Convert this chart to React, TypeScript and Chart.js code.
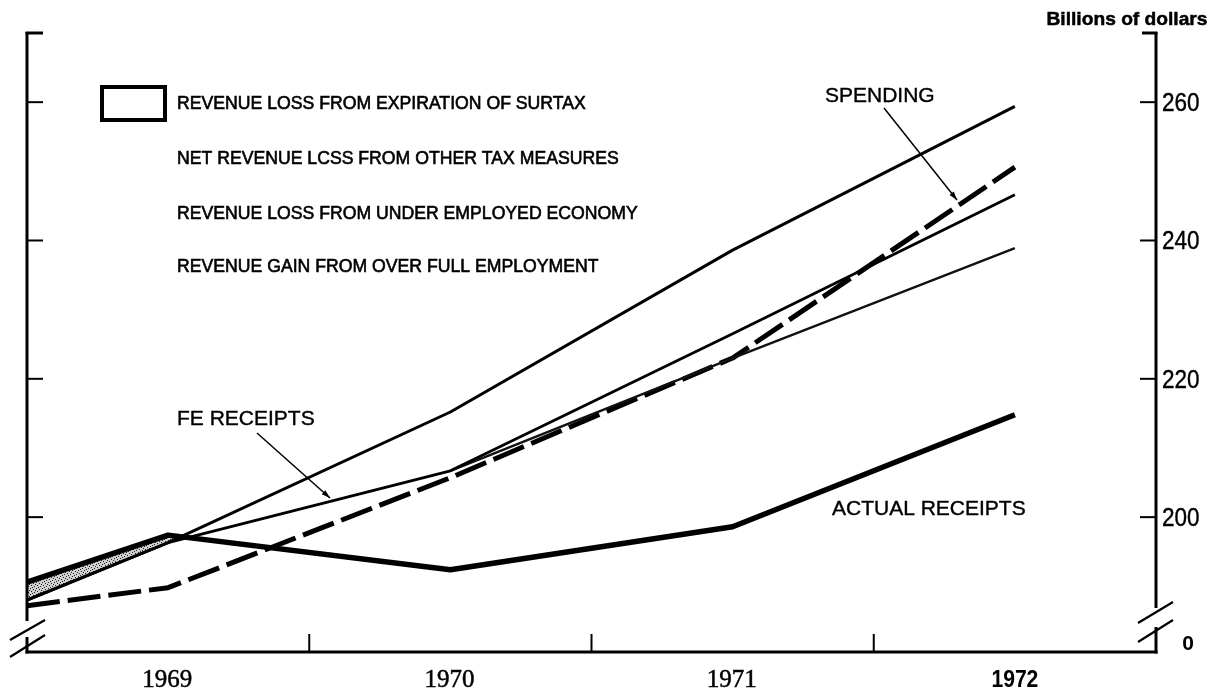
import React, { useEffect, useRef } from "react";
import { Chart, registerables } from "chart.js";

Chart.register(...registerables);

// ---- data (billions of dollars, fiscal years) ----
const years = [1968.5, 1969, 1970, 1971, 1972];
const feReceiptsWithSurtax = [188.0, 196.3, 215.2, 238.6, 259.4];
const feReceipts = [188.0, 196.3, 206.7, 226.5, 246.6];
const feReceiptsLower: (number | null)[] = [null, null, 206.7, 223.0, 238.9];
const spending = [187.2, 189.8, 205.7, 223.0, 250.6];
const actualReceipts = [190.6, 197.4, 192.4, 198.6, 214.8];

const yTickValues = [200, 220, 240, 260];
const yTickLabels = ["200", "220", "240", "260"];
const yBaseLabel = "0";
const xLabelYears = [1969, 1970, 1971, 1972];
const xLabels = ["1969", "1970", "1971", "1972"];
const xTickYears = [1969.5, 1970.5, 1971.5];

const legendItems = [
  "REVENUE LOSS FROM EXPIRATION OF SURTAX",
  "NET REVENUE LCSS FROM OTHER TAX MEASURES",
  "REVENUE LOSS FROM UNDER EMPLOYED ECONOMY",
  "REVENUE GAIN FROM OVER FULL EMPLOYMENT",
];
const unitLabel = "Billions of dollars";
const spendingLabel = "SPENDING";
const feLabel = "FE RECEIPTS";
const actualLabel = "ACTUAL RECEIPTS";

const SANS = '"Liberation Sans", Arial, sans-serif';
const SERIF = '"Liberation Serif", "DejaVu Serif", serif';

function pts(arr: (number | null)[]) {
  const out: { x: number; y: number }[] = [];
  arr.forEach((v, i) => {
    if (v !== null) out.push({ x: years[i], y: v });
  });
  return out;
}

function makeStipple(): CanvasPattern | string {
  const c = document.createElement("canvas");
  c.width = 6;
  c.height = 6;
  const g = c.getContext("2d");
  if (!g) return "#bbb";
  g.fillStyle = "#d0d0d0";
  g.fillRect(0, 0, 6, 6);
  g.fillStyle = "#222";
  const dots = [
    [0, 0], [3, 1], [1, 3], [4, 4], [5, 2], [2, 5],
  ];
  dots.forEach(([x, y]) => g.fillRect(x, y, 1, 1));
  const p = g.createPattern(c, "repeat");
  return p || "#bbb";
}

function text(
  ctx: CanvasRenderingContext2D,
  s: string,
  x: number,
  y: number,
  font: string,
  align: CanvasTextAlign = "left",
  sx = 1,
  heavy = 0
) {
  ctx.save();
  ctx.font = font;
  ctx.fillStyle = "#000";
  ctx.strokeStyle = "#000";
  ctx.textBaseline = "alphabetic";
  ctx.textAlign = align;
  ctx.translate(x, y);
  ctx.scale(sx, 1);
  ctx.fillText(s, 0, 0);
  if (heavy > 0) {
    ctx.lineWidth = heavy;
    ctx.strokeText(s, 0, 0);
  }
  ctx.restore();
}

function line(ctx: CanvasRenderingContext2D, x1: number, y1: number, x2: number, y2: number, w: number) {
  ctx.save();
  ctx.strokeStyle = "#000";
  ctx.lineWidth = w;
  ctx.lineCap = "butt";
  ctx.beginPath();
  ctx.moveTo(x1, y1);
  ctx.lineTo(x2, y2);
  ctx.stroke();
  ctx.restore();
}

function arrow(ctx: CanvasRenderingContext2D, x1: number, y1: number, x2: number, y2: number) {
  line(ctx, x1, y1, x2, y2, 1.5);
  const a = Math.atan2(y2 - y1, x2 - x1);
  const L = 9;
  ctx.save();
  ctx.fillStyle = "#000";
  ctx.beginPath();
  ctx.moveTo(x2, y2);
  ctx.lineTo(x2 - L * Math.cos(a - 0.3), y2 - L * Math.sin(a - 0.3));
  ctx.lineTo(x2 - L * Math.cos(a + 0.3), y2 - L * Math.sin(a + 0.3));
  ctx.closePath();
  ctx.fill();
  ctx.restore();
}

const decorPlugin = {
  id: "decor",
  afterDraw(chart: any) {
    const ctx: CanvasRenderingContext2D = chart.ctx;
    const { left, right, top, bottom } = chart.chartArea;
    const xs = chart.scales.x;
    const ys = chart.scales.y;

    // axes with broken bottom
    line(ctx, left, top - 1, left, bottom - 31, 3);
    line(ctx, left, bottom - 15, left, bottom + 1.5, 3);
    line(ctx, right, top - 1, right, bottom - 44, 3);
    line(ctx, right, bottom - 25, right, bottom + 1.5, 3);
    line(ctx, left - 1.5, bottom, right + 1.5, bottom, 3);
    // top brackets
    line(ctx, left - 1.5, top, left + 16, top, 3);
    line(ctx, right - 14, top, right + 1.5, top, 3);
    // break marks
    line(ctx, left - 17, bottom - 12, left + 18, bottom - 32, 2.2);
    line(ctx, left - 17, bottom + 5, left + 18, bottom - 17, 2.2);
    line(ctx, right - 18, bottom - 29, right + 17, bottom - 50, 2.2);
    line(ctx, right - 18, bottom - 10, right + 17, bottom - 32, 2.2);

    // y ticks both sides (inward) and right labels
    yTickValues.forEach((v, i) => {
      const y = ys.getPixelForValue(v);
      line(ctx, left, y, left + 16, y, 2);
      line(ctx, right - 16, y, right, y, 2);
      text(ctx, yTickLabels[i], right + 6, y + 9, `25px ${SANS}`, "left", 0.9, 0.4);
    });
    text(ctx, yBaseLabel, right + 32, bottom - 2, `bold 21px ${SANS}`, "center");

    // x ticks (inward) and labels
    xTickYears.forEach((v) => {
      const x = xs.getPixelForValue(v);
      line(ctx, x, bottom, x, bottom - 18, 2);
    });
    xLabelYears.forEach((v, i) => {
      const x = xs.getPixelForValue(v);
      const last = i === xLabelYears.length - 1;
      if (last) {
        text(ctx, xLabels[i], x, bottom + 35, `bold 24px ${SANS}`, "center", 0.88);
      } else {
        text(ctx, xLabels[i], x - 1, bottom + 35, `25px ${SERIF}`, "center", 1, 0.5);
      }
    });

    // unit label
    ctx.save();
    ctx.font = `bold 19px ${SANS}`;
    const w = ctx.measureText(unitLabel).width;
    ctx.restore();
    text(ctx, unitLabel, 1127, 25, `bold 19px ${SANS}`, "center", 161 / w, 0.5);

    // legend
    ctx.save();
    ctx.strokeStyle = "#000";
    ctx.lineWidth = 4;
    ctx.strokeRect(102, 87, 63, 33);
    ctx.restore();
    const legendY = [108.5, 163.5, 218.5, 271.5];
    legendItems.forEach((s, i) => {
      text(ctx, s, 177, legendY[i], `18px ${SANS}`, "left", 0.98, 0.6);
    });

    // annotations
    text(ctx, spendingLabel, 825, 102, `21px ${SANS}`, "left", 1, 0.4);
    arrow(ctx, 884, 108, 957, 200);
    text(ctx, feLabel, 177, 425, `21px ${SANS}`, "left", 1, 0.4);
    arrow(ctx, 257, 433, 330, 498);
    text(ctx, actualLabel, 832, 515, `21px ${SANS}`, "left", 1, 0.4);
  },
};

export default function App() {
  const ref = useRef<HTMLCanvasElement>(null);

  useEffect(() => {
    const canvas = ref.current;
    if (!canvas) return;
    const stipple = makeStipple();
    const chart = new Chart(canvas, {
      type: "line",
      data: {
        datasets: [
          {
            label: "FE receipts with surtax",
            data: pts(feReceiptsWithSurtax),
            borderColor: "#000",
            borderWidth: 3,
            pointRadius: 0,
            fill: false,
          },
          {
            label: "FE receipts",
            data: pts(feReceipts),
            borderColor: "#000",
            borderWidth: 2.8,
            pointRadius: 0,
            fill: false,
          },
          {
            label: "FE receipts (under employed)",
            data: pts(feReceiptsLower),
            borderColor: "#111",
            borderWidth: 2.4,
            pointRadius: 0,
            fill: false,
          },
          {
            label: "Spending",
            data: pts(spending),
            borderColor: "#000",
            borderWidth: 5,
            borderDash: [33, 8],
            pointRadius: 0,
            fill: false,
          },
          {
            label: "Actual receipts",
            data: pts(actualReceipts),
            borderColor: "#000",
            borderWidth: 5.5,
            pointRadius: 0,
            fill: { target: 1, above: stipple as any, below: "rgba(0,0,0,0)" },
          },
        ],
      },
      options: {
        responsive: false,
        animation: false,
        devicePixelRatio: 1,
        layout: { padding: { left: 27, right: 60, top: 33, bottom: 40 } },
        parsing: false as any,
        elements: { line: { tension: 0, borderJoinStyle: "round", borderCapStyle: "butt" } },
        scales: {
          x: { type: "linear", min: 1968.5, max: 1972.5, display: false },
          y: { type: "linear", min: 180.5, max: 270, display: false },
        },
        plugins: {
          legend: { display: false },
          tooltip: { enabled: false },
          title: { display: false },
        },
      },
      plugins: [decorPlugin],
    });
    return () => chart.destroy();
  }, []);

  return (
    <div style={{ position: "fixed", left: 0, top: 0, width: 1216, height: 692, background: "#fff" }}>
      <canvas ref={ref} width={1216} height={692} style={{ display: "block" }} />
    </div>
  );
}
